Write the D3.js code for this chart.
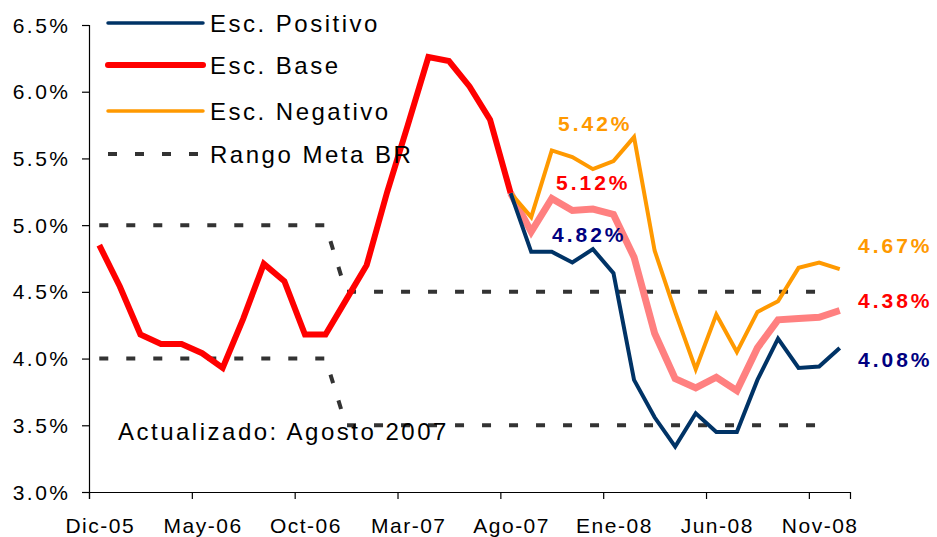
<!DOCTYPE html>
<html>
<head>
<meta charset="utf-8">
<script src="https://cdn.jsdelivr.net/npm/d3@7"></script>
<style>
  body { margin: 0; background: #fff; }
  text { font-family: Arial, "Liberation Sans", sans-serif; }
</style>
</head>
<body>
<div id="chart"></div>
<script>
var meses = ["Dic-05","Ene-06","Feb-06","Mar-06","Abr-06","May-06","Jun-06","Jul-06","Ago-06","Sep-06",
  "Oct-06","Nov-06","Dic-06","Ene-07","Feb-07","Mar-07","Abr-07","May-07","Jun-07","Jul-07",
  "Ago-07","Sep-07","Oct-07","Nov-07","Dic-07","Ene-08","Feb-08","Mar-08","Abr-08","May-08",
  "Jun-08","Jul-08","Ago-08","Sep-08","Oct-08","Nov-08","Dic-08"];

// observado hasta Ago-07
var escBase = [4.85,4.54,4.18,4.11,4.11,4.04,3.93,4.30,4.71,4.58,
  4.18,4.18,4.44,4.70,5.25,5.75,6.26,6.23,6.04,5.79,
  5.24];
// proyecciones desde Ago-07
var escBaseProy = [null,null,null,null,null,null,null,null,null,null,
  null,null,null,null,null,null,null,null,null,null,
  5.24,4.95,5.20,5.11,5.12,5.08,4.76,4.19,3.85,3.78,
  3.86,3.76,4.08,4.29,4.30,4.31,4.36];
var escPositivo = [null,null,null,null,null,null,null,null,null,null,
  null,null,null,null,null,null,null,null,null,null,
  5.24,4.80,4.80,4.72,4.82,4.64,3.84,3.56,3.34,3.59,
  3.45,3.45,3.84,4.15,3.93,3.94,4.08];
var escNegativo = [null,null,null,null,null,null,null,null,null,null,
  null,null,null,null,null,null,null,null,null,null,
  5.24,5.06,5.56,5.51,5.42,5.48,5.66,4.81,4.35,3.92,
  4.33,4.05,4.35,4.43,4.68,4.72,4.67];
var rangoSup = [5.0,5.0,5.0,5.0,5.0,5.0,5.0,5.0,5.0,5.0,
  5.0,5.0,4.5,4.5,4.5,4.5,4.5,4.5,4.5,4.5,
  4.5,4.5,4.5,4.5,4.5,4.5,4.5,4.5,4.5,4.5,
  4.5,4.5,4.5,4.5,4.5,4.5];
var rangoInf = [4.0,4.0,4.0,4.0,4.0,4.0,4.0,4.0,4.0,4.0,
  4.0,4.0,3.5,3.5,3.5,3.5,3.5,3.5,3.5,3.5,
  3.5,3.5,3.5,3.5,3.5,3.5,3.5,3.5,3.5,3.5,
  3.5,3.5,3.5,3.5,3.5,3.5];

var yTicks = [3.0,3.5,4.0,4.5,5.0,5.5,6.0,6.5];
var xTickIdx = [0,5,10,15,20,25,30,35];

var leyenda = ["Esc. Positivo","Esc. Base","Esc. Negativo","Rango Meta BR"];
var etiquetasMedio = ["5.42%","5.12%","4.82%"];
var etiquetasFinal = ["4.67%","4.38%","4.08%"];
var nota = "Actualizado: Agosto 2007";

var width = 937, height = 537;
var cNavy = "#003366", cRed = "#ff0000", cOrange = "#ff9900", cPink = "#ff8080", cDash = "#333333";

var svg = d3.select('#chart').append('svg')
  .attr('width', width).attr('height', height);

var x = d3.scaleLinear().domain([0, meses.length]).range([89, 850]);
var y = d3.scaleLinear().domain([3.0, 6.5]).range([492, 25]);

// ejes
svg.append('g')
  .attr('transform', 'translate(89,0)')
  .call(d3.axisLeft(y).tickValues(yTicks).tickSize(7).tickPadding(0).tickFormat(function(d){ return ''; }))
  .call(function(g){ g.select('.domain').attr('stroke','#000').attr('stroke-width',1.2); g.selectAll('line').attr('stroke','#000').attr('stroke-width',1.2); });

svg.append('g')
  .attr('transform', 'translate(0,492)')
  .call(d3.axisBottom(x).tickValues(xTickIdx).tickSize(7).tickFormat(function(d){ return ''; }))
  .call(function(g){ g.select('.domain').attr('stroke','#000').attr('stroke-width',1.2); g.selectAll('line').attr('stroke','#000').attr('stroke-width',1.2); });

svg.selectAll('text.ylab')
  .data(yTicks)
  .enter()
  .append('text')
  .attr('class','ylab')
  .attr('x', 70.5)
  .attr('y', function(d){ return y(d) + 7.5; })
  .attr('text-anchor','end')
  .style('font-size','21px')
  .style('letter-spacing','2.5px')
  .text(function(d){ return d.toFixed(1) + '%'; });

svg.selectAll('text.xlab')
  .data(xTickIdx)
  .enter()
  .append('text')
  .attr('class','xlab')
  .attr('x', function(d){ return x(d + 0.5) + 1; })
  .attr('y', 533)
  .attr('text-anchor','middle')
  .style('font-size','21px')
  .style('letter-spacing','1.5px')
  .text(function(d){ return meses[d]; });

function linea(serie){
  return d3.line()
    .defined(function(d){ return d != null; })
    .x(function(d,i){ return x(i + 0.5); })
    .y(function(d){ return y(d); })(serie);
}

// rango meta
[rangoSup, rangoInf].forEach(function(s){
  svg.append('path')
    .attr('d', linea(s))
    .attr('fill','none')
    .attr('stroke', cDash)
    .attr('stroke-width', 4)
    .attr('stroke-dasharray','9,18');
});

svg.append('text')
  .attr('x', 118).attr('y', 440)
  .style('font-size','24px')
  .style('letter-spacing','2.5px')
  .text(nota);

svg.append('path').attr('d', linea(escBaseProy))
  .attr('fill','none').attr('stroke', cPink).attr('stroke-width', 7).attr('stroke-linejoin','miter');
svg.append('path').attr('d', linea(escNegativo))
  .attr('fill','none').attr('stroke', cOrange).attr('stroke-width', 4);
svg.append('path').attr('d', linea(escPositivo))
  .attr('fill','none').attr('stroke', cNavy).attr('stroke-width', 4);
svg.append('path').attr('d', linea(escBase))
  .attr('fill','none').attr('stroke', cRed).attr('stroke-width', 6);

// etiquetas de valores
var colLab = [cOrange, cRed, "#000080"];
var yMedio = [131, 190, 242];
var xMedio = [558, 556, 552];
svg.selectAll('text.lm')
  .data(etiquetasMedio)
  .enter()
  .append('text')
  .attr('x', function(d,i){ return xMedio[i]; })
  .attr('y', function(d,i){ return yMedio[i]; })
  .style('font-size','21px').style('font-weight','bold').style('letter-spacing','3px')
  .style('fill', function(d,i){ return colLab[i]; })
  .text(function(d){ return d; });

var yFinal = [253, 308, 367];
svg.selectAll('text.lf')
  .data(etiquetasFinal)
  .enter()
  .append('text')
  .attr('x', 858)
  .attr('y', function(d,i){ return yFinal[i]; })
  .style('font-size','21px').style('font-weight','bold').style('letter-spacing','3px')
  .style('fill', function(d,i){ return colLab[i]; })
  .text(function(d){ return d; });

// leyenda
var legY = [23, 65, 111, 154];
var legStyle = [
  {c:cNavy, w:3.5, dash:null},
  {c:cRed, w:6, dash:null},
  {c:cOrange, w:3.5, dash:null},
  {c:cDash, w:4, dash:'9,18'}
];
leyenda.forEach(function(t,i){
  svg.append('line')
    .attr('x1',108).attr('x2',203)
    .attr('y1',legY[i]).attr('y2',legY[i])
    .attr('stroke',legStyle[i].c)
    .attr('stroke-width',legStyle[i].w)
    .attr('stroke-linecap', legStyle[i].dash ? 'butt' : 'round')
    .attr('stroke-dasharray', legStyle[i].dash);
  svg.append('text')
    .attr('x',210).attr('y',legY[i] + 8.5)
    .style('font-size','24px')
    .style('letter-spacing','2.5px')
    .text(t);
});
</script>
</body>
</html>
